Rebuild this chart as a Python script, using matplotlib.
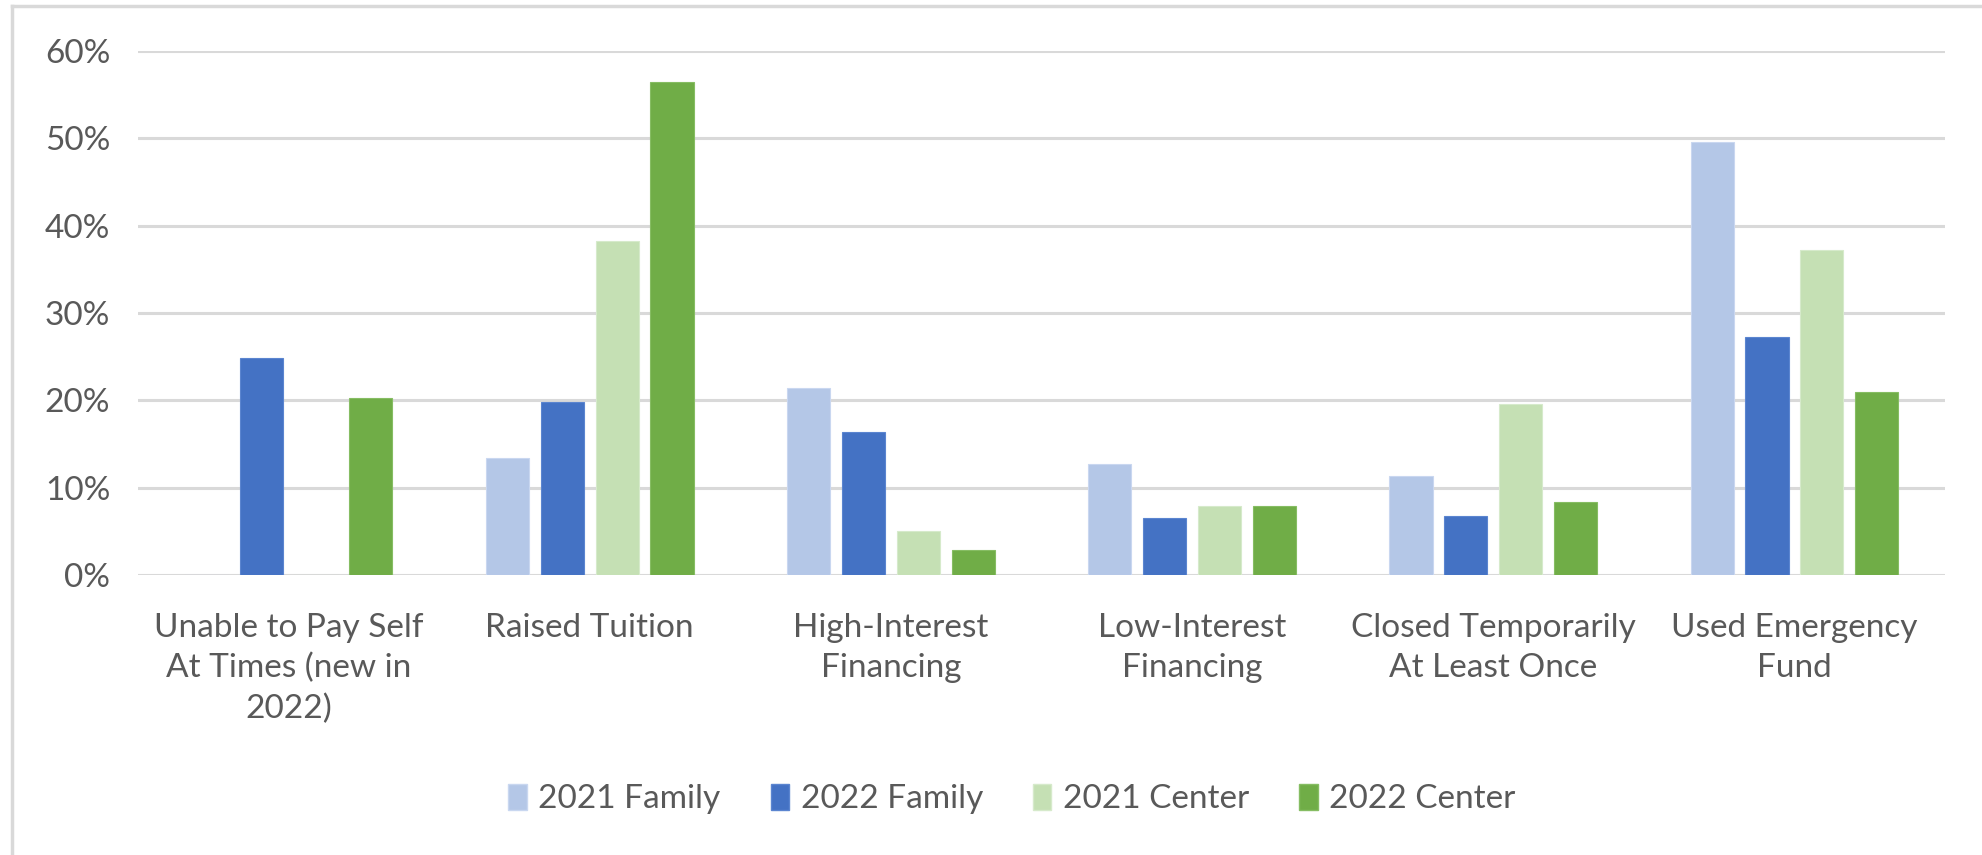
import matplotlib
matplotlib.use("Agg")
import matplotlib.pyplot as plt
import numpy as np
from matplotlib.lines import Line2D
from matplotlib.ticker import FuncFormatter

categories = [
    "Unable to Pay Self\nAt Times (new in\n2022)",
    "Raised Tuition",
    "High-Interest\nFinancing",
    "Low-Interest\nFinancing",
    "Closed Temporarily\nAt Least Once",
    "Used Emergency\nFund",
]
series_names = ["2021 Family", "2022 Family", "2021 Center", "2022 Center"]
fam_2021 = [0.0, 13.4, 21.4, 12.7, 11.3, 49.6]
fam_2022 = [24.9, 19.8, 16.4, 6.5, 6.8, 27.2]
cen_2021 = [0.0, 38.2, 5.0, 7.9, 19.6, 37.2]
cen_2022 = [20.3, 56.5, 2.9, 7.9, 8.4, 21.0]
yticks = [0, 10, 20, 30, 40, 50, 60]

colors = ["#B4C7E7", "#4472C4", "#C5E0B4", "#70AD47"]
edge = ["#C9D7F0", "#5B85D0", "#D6EACB", "#86BD63"]
text_color = "#595959"
grid_color = "#D9D9D9"
font = "Lato"
fs = 24

plt.rcParams["font.family"] = [font, "DejaVu Sans"]

fig = plt.figure(figsize=(19.83, 8.55), dpi=100)
ax_top, ax_bot = 51, 575
ax = fig.add_axes([138 / 1983, 1 - ax_bot / 855, (1945 - 138) / 1983, (ax_bot - ax_top) / 855])

x = np.arange(len(categories))
step = 0.182
width = 0.143
all_series = [fam_2021, fam_2022, cen_2021, cen_2022]
for i, vals in enumerate(all_series):
    ax.bar(x + (i - 1.5) * step, vals, width=width, color=colors[i],
           edgecolor=edge[i], linewidth=0.8, label=series_names[i], zorder=3)

ax.set_xlim(-0.5, len(categories) - 0.5)
ax.set_ylim(0, 60)
ax.set_yticks(yticks)
ax.yaxis.set_major_formatter(FuncFormatter(lambda v, p: f"{int(v)}%"))
ax.yaxis.grid(True, color=grid_color, linewidth=2.2, zorder=0)
ax.set_axisbelow(True)
for s in ax.spines.values():
    s.set_visible(False)
ax.tick_params(axis="both", length=0, labelsize=fs, colors=text_color)
ax.tick_params(axis="y", pad=20)
ax.set_xticks(x)
ax.set_xticklabels(categories, linespacing=1.42, va="top")
ax.tick_params(axis="x", pad=27)

handles = [plt.Rectangle((0, 0), 1, 1, facecolor=colors[i], edgecolor=edge[i]) for i in range(4)]
leg = fig.legend(handles, series_names, loc="center", bbox_to_anchor=(1012 / 1983, 1 - 799 / 855),
                 ncol=4, frameon=False, fontsize=fs, handlelength=0.55, handleheight=0.85,
                 handletextpad=0.35, columnspacing=1.5)
for t in leg.get_texts():
    t.set_color(text_color)

# outer chart border (left and top visible)
fig.add_artist(Line2D([12 / 1983, 12 / 1983], [0, 1 - 6 / 855], transform=fig.transFigure,
                      color=grid_color, linewidth=2.5))
fig.add_artist(Line2D([12 / 1983, 1], [1 - 6 / 855, 1 - 6 / 855], transform=fig.transFigure,
                      color=grid_color, linewidth=2.5))

fig.savefig("out.png", dpi=100, facecolor="white")
